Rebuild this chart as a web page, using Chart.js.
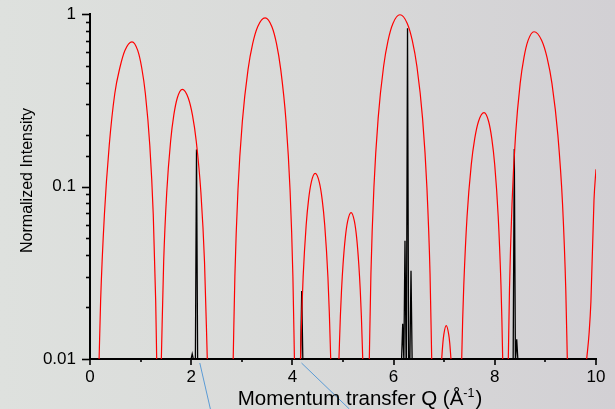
<!DOCTYPE html>
<html>
<head>
<meta charset="utf-8">
<script src="https://cdn.jsdelivr.net/npm/chart.js@4.4.1/dist/chart.umd.min.js"></script>
<style>
  html, body { margin: 0; padding: 0; }
  body {
    width: 615px; height: 409px; overflow: hidden;
    background: linear-gradient(to right, #dee1de 0%, #d9dad9 50%, #d2d0d4 100%);
  }
  #wrap { position: relative; width: 615px; height: 409px; }
</style>
</head>
<body>
<div id="wrap"><canvas id="chart" width="615" height="409"></canvas></div>
<script>
// red curve: calculated intensity, arches separated by null
const redQ = [
  0.18, 0.21, 0.285, 0.38, 0.49, 0.59, 0.69, 0.83, 0.943, 1.022, 1.094, 1.182, 1.25, 1.298, 1.318, null,
  1.41, 1.456, 1.516, 1.593, 1.656, 1.725, 1.824, 1.942, 2.025, 2.1, 2.192, 2.263, 2.318, null,
  2.83, 2.863, 2.924, 3.011, 3.123, 3.215, 3.316, 3.46, 3.593, 3.686, 3.77, 3.874, 3.954, 4.01, 4.04, null,
  4.16, 4.186, 4.212, 4.272, 4.32, 4.374, 4.45, 4.531, 4.588, 4.639, 4.702, 4.729, 4.757, null,
  4.92, 4.948, 4.971, 5.001, 5.044, 5.092, 5.16, 5.225, 5.271, 5.312, 5.341, 5.363, 5.39, null,
  5.52, 5.552, 5.611, 5.695, 5.802, 5.89, 5.987, 6.126, 6.27, 6.37, 6.461, 6.572, 6.658, 6.72, 6.753, null,
  6.95, 6.974, 6.993, 7.04, 7.089, 7.109, 7.134, null,
  7.346, 7.365, 7.387, 7.452, 7.535, 7.604, 7.679, 7.787, 7.877, 7.94, 7.998, 8.067, 8.122, 8.14, 8.156, null,
  8.267, 8.29, 8.34, 8.41, 8.501, 8.576, 8.658, 8.775, 8.927, 9.033, 9.13, 9.247, 9.339, 9.403, 9.433, null,
  9.816, 9.862, 9.9, 9.96, 10.0
];
const redI = [
  0.01, 0.0218, 0.069, 0.173, 0.346, 0.488, 0.615, 0.69, 0.615, 0.488, 0.346, 0.173, 0.069, 0.0218, 0.01, null,
  0.01, 0.0366, 0.0919, 0.183, 0.259, 0.326, 0.366, 0.326, 0.259, 0.183, 0.0919, 0.0366, 0.01, null,
  0.01, 0.03, 0.095, 0.239, 0.476, 0.673, 0.847, 0.95, 0.847, 0.673, 0.476, 0.239, 0.095, 0.03, 0.01, null,
  0.01, 0.0188, 0.0299, 0.0596, 0.0842, 0.106, 0.119, 0.106, 0.0842, 0.0596, 0.0299, 0.0188, 0.01, null,
  0.01, 0.0177, 0.0251, 0.0354, 0.05, 0.0629, 0.0706, 0.0629, 0.05, 0.0354, 0.0251, 0.0177, 0.01, null,
  0.01, 0.0313, 0.099, 0.249, 0.496, 0.701, 0.882, 0.99, 0.882, 0.701, 0.496, 0.249, 0.099, 0.0313, 0.01, null,
  0.01, 0.0124, 0.0139, 0.0156, 0.0139, 0.0124, 0.01, null,
  0.01, 0.0169, 0.0268, 0.0673, 0.134, 0.19, 0.239, 0.268, 0.239, 0.19, 0.134, 0.0673, 0.0268, 0.0169, 0.01, null,
  0.01, 0.025, 0.0789, 0.198, 0.395, 0.559, 0.703, 0.789, 0.703, 0.559, 0.395, 0.198, 0.0789, 0.025, 0.01, null,
  0.01, 0.0139, 0.0217, 0.083, 0.126
];

// black spikes: measured Bragg peaks
const peakQ = [2.02, 2.105, 4.184, 6.18, 6.225, 6.275, 6.344, 8.385, 8.433];
const peakI = [0.0107, 0.164, 0.0248, 0.016, 0.0485, 0.826, 0.0325, 0.165, 0.013];

const xTicks = [0, 2, 4, 6, 8, 10];
const yTickLabels = { "0": "1", "-1": "0.1", "-2": "0.01" };

const redData = [];
redQ.forEach((q, i) => {
  if (q === null) {
    redData.push({ x: redQ[i - 1], y: null });
  } else {
    redData.push({ x: q, y: redI[i] });
  }
});

const spikeHalf = 0.022;
const spikeData = [];
peakQ.forEach((q, i) => {
  spikeData.push({ x: q - spikeHalf, y: 0.01 });
  spikeData.push({ x: q, y: peakI[i] });
  spikeData.push({ x: q + spikeHalf, y: 0.01 });
  spikeData.push({ x: q + spikeHalf, y: null });
});

const isDecade = (v) => {
  const l = Math.log10(v);
  return Math.abs(l - Math.round(l)) < 1e-6;
};

const decorPlugin = {
  id: "decor",
  afterDraw(chart) {
    const ctx = chart.ctx;
    const xs = chart.scales.x;
    const ys = chart.scales.y;
    const area = chart.chartArea;
    ctx.save();
    ctx.strokeStyle = "#000";
    ctx.lineWidth = 1.6;
    // y tick marks
    ys.ticks.forEach((t) => {
      const y = Math.round(ys.getPixelForValue(t.value)) + 0.5;
      const len = isDecade(t.value) ? 8 : 4;
      ctx.beginPath();
      ctx.moveTo(area.left - len, y);
      ctx.lineTo(area.left, y);
      ctx.stroke();
    });
    // x tick marks
    xs.ticks.forEach((t) => {
      const x = Math.round(xs.getPixelForValue(t.value));
      const len = t.value % 2 === 0 ? 6 : 3;
      ctx.beginPath();
      ctx.moveTo(x, area.bottom);
      ctx.lineTo(x, area.bottom + len);
      ctx.stroke();
    });

    // pointer lines below the axis
    ctx.strokeStyle = "#5b9bd5";
    ctx.lineWidth = 1;
    const y0 = area.bottom + 4;
    [[2.17, 0.23], [4.18, 1.04]].forEach(([q, slope]) => {
      const x0 = xs.getPixelForValue(q);
      ctx.beginPath();
      ctx.moveTo(x0, y0);
      ctx.lineTo(x0 + slope * (chart.height - y0), chart.height);
      ctx.stroke();
    });

    // axis titles
    ctx.fillStyle = "#000";
    ctx.save();
    ctx.translate(28, (area.top + area.bottom) / 2 - 6);
    ctx.rotate(-Math.PI / 2);
    ctx.font = '16px "Liberation Sans", Arial, sans-serif';
    ctx.textAlign = "center";
    ctx.textBaseline = "middle";
    ctx.fillText("Normalized Intensity", 0, 0);
    ctx.restore();

    const main = "Momentum transfer Q (\u00C5";
    const sup = "-1";
    const tail = ")";
    const bigFont = '20.5px "Liberation Sans", Arial, sans-serif';
    const smallFont = '12.5px "Liberation Sans", Arial, sans-serif';
    ctx.font = bigFont;
    const wMain = ctx.measureText(main).width;
    const wTail = ctx.measureText(tail).width;
    ctx.font = smallFont;
    const wSup = ctx.measureText(sup).width;
    const total = wMain + wSup + wTail + 1;
    const cx = (area.left + area.right) / 2 + 17;
    let x = cx - total / 2;
    const base = 405;
    ctx.textAlign = "left";
    ctx.textBaseline = "alphabetic";
    ctx.font = bigFont;
    ctx.fillText(main, x, base);
    x += wMain;
    ctx.font = smallFont;
    ctx.fillText(sup, x, base - 8);
    x += wSup + 1;
    ctx.font = bigFont;
    ctx.fillText(tail, x, base);
    ctx.restore();
  }
};

new Chart(document.getElementById("chart").getContext("2d"), {
  type: "line",
  data: {
    datasets: [
      {
        label: "calc",
        data: redData,
        borderColor: "#ff0000",
        borderWidth: 1.2,
        pointRadius: 0,
        cubicInterpolationMode: "monotone",
        spanGaps: false,
        fill: false
      },
      {
        label: "peaks",
        data: spikeData,
        borderColor: "#000000",
        borderWidth: 1.3,
        pointRadius: 0,
        tension: 0,
        spanGaps: false,
        fill: false
      }
    ]
  },
  options: {
    responsive: false,
    animation: false,
    events: [],
    layout: { padding: { top: 14, right: 19, left: 0, bottom: 0 } },
    plugins: {
      legend: { display: false },
      tooltip: { enabled: false },
      title: { display: false }
    },
    scales: {
      x: {
        type: "linear",
        min: 0,
        max: 10,
        afterFit: (s) => { s.height = 50; s.paddingLeft = 0; s.paddingRight = 0; },
        grid: { display: false, drawTicks: false },
        border: { display: true, color: "#000", width: 2 },
        ticks: {
          stepSize: 1,
          autoSkip: false,
          maxRotation: 0,
          padding: 8,
          color: "#000",
          font: { family: '"Liberation Sans", Arial, sans-serif', size: 17 },
          callback: (v) => (xTicks.includes(v) ? String(v) : "")
        }
      },
      y: {
        type: "logarithmic",
        min: 0.01,
        max: 1,
        afterFit: (s) => { s.width = 90; s.paddingTop = 0; s.paddingBottom = 0; },
        grid: { display: false, drawTicks: false },
        border: { display: true, color: "#000", width: 2 },
        ticks: {
          autoSkip: false,
          padding: 14,
          color: "#000",
          font: { family: '"Liberation Sans", Arial, sans-serif', size: 17 },
          callback: (v) => {
            if (!isDecade(v)) return "";
            return yTickLabels[String(Math.round(Math.log10(v)))] || "";
          }
        }
      }
    }
  },
  plugins: [decorPlugin]
});
</script>
</body>
</html>
